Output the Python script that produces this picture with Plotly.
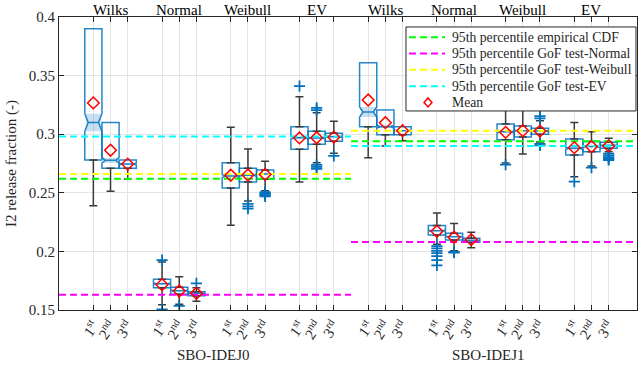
import plotly.graph_objects as go

# ---------------- data ----------------
groups = ["SBO-IDEJ0", "SBO-IDEJ1"]
methods = ["Wilks", "Normal", "Weibull", "EV"]
ranks = ["1<sup>st</sup>", "2<sup>nd</sup>", "3<sup>rd</sup>"]

# order: group -> method -> rank (24 boxes)
q1 = [0.278, 0.271, 0.271,   0.169, 0.1634, 0.1622,   0.2541, 0.2592, 0.2615,   0.2871, 0.2914, 0.2939,
      0.3064, 0.2996, 0.2996, 0.214, 0.2097, 0.2078,   0.2953, 0.2976, 0.2999,   0.2823, 0.2851, 0.288]
median = [0.310, 0.2777, 0.2745, 0.1724, 0.1665, 0.164,  0.2643, 0.265, 0.266,   0.297, 0.2968, 0.2979,
          0.3189, 0.3064, 0.303, 0.2177, 0.2126, 0.2095, 0.302, 0.303, 0.3027,   0.288, 0.2894, 0.2905]
q3 = [0.390, 0.310, 0.278,   0.1762, 0.1694, 0.1656,  0.2757, 0.2709, 0.2695,  0.3064, 0.3025, 0.3008,
      0.361, 0.3206, 0.3064, 0.222, 0.2154, 0.2112,    0.3087, 0.307, 0.305,     0.2959, 0.2937, 0.2932]
lower_whisker = [0.239, 0.2513, 0.2618, 0.1545, 0.155, 0.1574, 0.2223, 0.243, 0.2518, 0.2592, 0.2757, 0.2837,
                 0.280, 0.290, 0.2945, 0.206, 0.2005, 0.2032, 0.2755, 0.2831, 0.2933, 0.2637, 0.2729, 0.2851]
upper_whisker = [0.390, 0.310, 0.278, 0.191, 0.1784, 0.169, 0.3059, 0.2874, 0.2769, 0.332, 0.3184, 0.311,
                 0.361, 0.3206, 0.3064, 0.2328, 0.2237, 0.2163, 0.325, 0.322, 0.3115, 0.3099, 0.3021, 0.2965]
mean = [0.3267, 0.2863, 0.2745, 0.1716, 0.1662, 0.1642, 0.265, 0.2652, 0.2657, 0.2968, 0.297, 0.2975,
        0.3292, 0.3098, 0.303, 0.2171, 0.2121, 0.210, 0.3016, 0.303, 0.3027, 0.2885, 0.2894, 0.290]
notch_half = [0.0075, 0.0023, 0.0008, 0.0006, 0.0005, 0.0003, 0.0012, 0.0008, 0.0005, 0.0012, 0.0007, 0.0005,
              0.0043, 0.0012, 0.0005, 0.0006, 0.0004, 0.0003, 0.0008, 0.0005, 0.0004, 0.0009, 0.0006, 0.0004]
outliers = [[], [], [], [0.1925, 0.1505], [0.1535], [0.1728],
            [], [0.2405, 0.2385, 0.2365], [0.2505, 0.2495, 0.249, 0.248, 0.247],
            [0.341], [0.3205, 0.3225, 0.2738, 0.2722, 0.2705], [0.2815],
            [], [], [], [0.2045, 0.2025, 0.2005, 0.1985, 0.196, 0.1925, 0.188], [0.1995, 0.199], [],
            [0.274], [], [0.3135, 0.3155, 0.2918, 0.2905],
            [0.2595], [0.2715], [0.2835, 0.282, 0.2805, 0.279, 0.278]]

# 95th percentile reference lines per group
p95_empirical = [0.262, 0.294]
p95_normal = [0.163, 0.208]
p95_weibull = [0.266, 0.303]
p95_ev = [0.298, 0.290]
line_names = ["95th percentile empirical CDF", "95th percentile GoF test-Normal",
              "95th percentile GoF test-Weibull", "95th percentile GoF test-EV"]
line_colors = ["#00FF00", "#FF00FF", "#FFFF00", "#00FFFF"]
mean_name = "Mean"

# ---------------- positions ----------------
pos = []
for g in range(2):
    for m in range(4):
        for r in range(3):
            pos.append(1 + 16 * g + 4 * m + r)
tick_text = ranks * 8
x_range = [-1, 32.65]
group_edges = [x_range[0], 16, x_range[1]]

FONT = "Liberation Serif"
BLUE = "rgba(0,114,189,0.85)"
W = 1.0
DASH = "7px,4px"

fig = go.Figure()

# boxes (whiskers drawn separately in dark grey)
fig.add_trace(go.Box(
    x=pos, q1=q1, median=median, q3=q3, lowerfence=q1, upperfence=q3,
    notchspan=notch_half, notched=True, notchwidth=0.2, width=W,
    fillcolor="rgba(0,0,0,0)", line=dict(color=BLUE, width=1.5),
    boxpoints=False, showlegend=False, hoverinfo="skip"))

# shaded notch regions
nx, ny = [], []
for p, md, ns in zip(pos, median, notch_half):
    h = W / 2
    nx += [p - h, p - h * 0.8, p - h, p + h, p + h * 0.8, p + h, p - h, None]
    ny += [md - ns, md, md + ns, md + ns, md, md - ns, md - ns, None]
fig.add_trace(go.Scatter(x=nx, y=ny, mode="lines", fill="toself",
                         fillcolor="rgba(0,114,189,0.22)", line=dict(width=0),
                         showlegend=False, hoverinfo="skip"))

# whiskers
up = [u - t if u - t > 1e-9 else None for u, t in zip(upper_whisker, q3)]
dn = [t - l if t - l > 1e-9 else 0 for l, t in zip(lower_whisker, q1)]
up_x = [p for p, u in zip(pos, up) if u is not None]
up_y = [t for t, u in zip(q3, up) if u is not None]
up_v = [u for u in up if u is not None]
fig.add_trace(go.Scatter(x=up_x, y=up_y, mode="markers", marker=dict(size=1, opacity=0),
                         error_y=dict(type="data", symmetric=False, array=up_v,
                                      arrayminus=[0] * len(up_v), color="#3a3a3a",
                                      thickness=1.5, width=4),
                         showlegend=False, hoverinfo="skip"))
fig.add_trace(go.Scatter(x=pos, y=q1, mode="markers", marker=dict(size=1, opacity=0),
                         error_y=dict(type="data", symmetric=False, array=[0] * len(pos),
                                      arrayminus=dn, color="#3a3a3a",
                                      thickness=1.5, width=4),
                         showlegend=False, hoverinfo="skip"))

# outliers
ox, oy = [], []
for p, outs in zip(pos, outliers):
    for o in outs:
        ox.append(p)
        oy.append(o)
fig.add_trace(go.Scatter(x=ox, y=oy, mode="markers",
                         marker=dict(symbol="cross-thin", size=8,
                                     line=dict(color="#0072BD", width=1.8)),
                         showlegend=False, hoverinfo="skip"))

# reference lines
for vals, name, col in zip([p95_empirical, p95_normal, p95_weibull, p95_ev], line_names, line_colors):
    for g in range(2):
        fig.add_trace(go.Scatter(
            x=[group_edges[g], group_edges[g + 1]], y=[vals[g], vals[g]], mode="lines",
            line=dict(color=col, width=2, dash=DASH), name=name,
            legendgroup=name, showlegend=False, hoverinfo="skip"))

# means
fig.add_trace(go.Scatter(x=pos, y=mean, mode="markers", name=mean_name, showlegend=False,
                         marker=dict(symbol="diamond-open", size=9,
                                     line=dict(color="#FF0000", width=1.5), color="#FF0000")))

# ---------------- compact legend box (MATLAB-style) ----------------
LX, LY = 0.6003, 0.966      # top-left corner of legend in plot-area fractions
row_h = 16.3
shapes = [dict(type="rect", xref="paper", yref="paper", xsizemode="pixel", ysizemode="pixel",
               xanchor=LX, yanchor=LY, x0=0, x1=230, y0=0, y1=-84,
               line=dict(color="#262626", width=1), fillcolor="white", layer="above")]
annotations = []
labels = line_names + [mean_name]
for i, lab in enumerate(labels):
    yoff = -(10.3 + row_h * i)
    if i < len(line_colors):
        shapes.append(dict(type="line", xref="paper", yref="paper", xsizemode="pixel",
                           ysizemode="pixel", xanchor=LX, yanchor=LY, x0=3, x1=39,
                           y0=yoff, y1=yoff, layer="above",
                           line=dict(color=line_colors[i], width=2, dash=DASH)))
    else:
        shapes.append(dict(type="path", xref="paper", yref="paper", xsizemode="pixel",
                           ysizemode="pixel", xanchor=LX, yanchor=LY, layer="above",
                           path=f"M 18,{yoff} L 22,{yoff + 4.5} L 26,{yoff} L 22,{yoff - 4.5} Z",
                           line=dict(color="#FF0000", width=1.5)))
    annotations.append(dict(x=LX, y=LY, xref="paper", yref="paper", xanchor="left",
                            yanchor="middle", xshift=44, yshift=yoff, text=lab,
                            showarrow=False,
                            font=dict(family=FONT, size=13.7, color="#262626")))

# method labels on top and group labels below
for g in range(2):
    for m, meth in enumerate(methods):
        annotations.append(dict(x=1 + 16 * g + 4 * m + 1, y=1, xref="x", yref="paper",
                                yanchor="bottom", text=meth, showarrow=False,
                                font=dict(family=FONT, size=15, color="#000"), yshift=-3))
    annotations.append(dict(x=8 + 16 * g, y=0, xref="x", yref="paper", yanchor="top",
                            text=groups[g], showarrow=False, yshift=-35,
                            font=dict(family=FONT, size=15, color="#262626")))

axis_common = dict(showline=True, linecolor="#262626", linewidth=1, mirror="ticks",
                   ticks="inside", ticklen=5, tickcolor="#262626",
                   showgrid=True, gridcolor="#e4e4e4", gridwidth=1, zeroline=False,
                   tickfont=dict(family=FONT, size=15, color="#262626"))

fig.update_layout(
    width=639, height=366,
    margin=dict(l=59, r=2, t=17, b=56),
    plot_bgcolor="white", paper_bgcolor="white",
    boxmode="overlay", showlegend=False,
    xaxis=dict(range=x_range, tickmode="array", tickvals=pos, ticktext=tick_text,
               tickangle=-55, **axis_common),
    yaxis=dict(range=[0.15, 0.4], tickmode="array",
               tickvals=[0.15, 0.2, 0.25, 0.3, 0.35, 0.4],
               ticktext=["0.15", "0.2", "0.25", "0.3", "0.35", "0.4"],
               title=dict(text="I2 release fraction (-)", standoff=8,
                          font=dict(family=FONT, size=15, color="#262626")),
               **axis_common),
    shapes=shapes, annotations=annotations,
    font=dict(family=FONT),
)

fig.write_html("out.html")
